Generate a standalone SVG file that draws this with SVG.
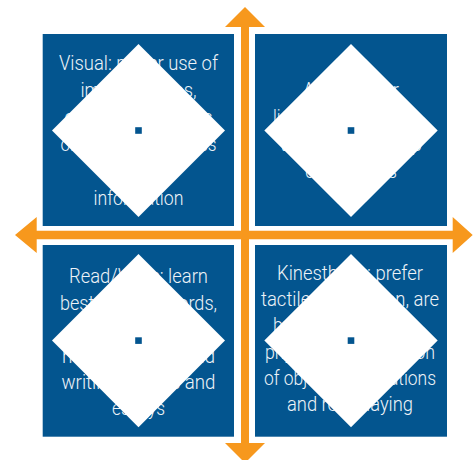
<svg xmlns="http://www.w3.org/2000/svg" width="473" height="460" viewBox="0 0 473 460">
  <style>
    .box { fill: #03558f; }
    .dia { fill: #ffffff; }
    .dot { fill: #03558f; }
    .arrow { fill: #f7981d; }
    .t { font-family: Roboto, "Liberation Sans", sans-serif; font-weight: 300; font-size: 21px; fill: #eef3f8; text-anchor: middle; }
    .s { text-anchor: start; }
  </style>
  <rect width="473" height="460" fill="#ffffff"/>

  <g id="node-visual">
    <rect class="box" x="42.7" y="34" width="191.3" height="192"/>
    <text class="t" x="138.5" y="70" textLength="159" lengthAdjust="spacingAndGlyphs">Visual: prefer use of</text>
    <text class="t" x="138.5" y="97" textLength="116" lengthAdjust="spacingAndGlyphs">images, maps,</text>
    <text class="t" x="138.5" y="124" textLength="148" lengthAdjust="spacingAndGlyphs">charts, and graphs</text>
    <text class="t" x="138.5" y="151" textLength="156" lengthAdjust="spacingAndGlyphs">organizers to access</text>
    <text class="t" x="138.5" y="178" textLength="68" lengthAdjust="spacingAndGlyphs">and store</text>
    <text class="t" x="138.5" y="205" textLength="90" lengthAdjust="spacingAndGlyphs">information</text>
    <polygon class="dia" points="138.5,44 225,130.5 138.5,217 52,130.5"/>
    <rect class="dot" x="135.2" y="127.2" width="6.6" height="6.6"/>
  </g>

  <g id="node-aural">
    <rect class="box" x="255" y="34" width="192" height="192"/>
    <text class="t" x="351" y="97" textLength="96" lengthAdjust="spacingAndGlyphs">Aural: prefer</text>
    <text class="t s" x="273" y="124" textLength="146" lengthAdjust="spacingAndGlyphs">listening to lectures,</text>
    <text class="t" x="351" y="151" textLength="142" lengthAdjust="spacingAndGlyphs">tapes, and group</text>
    <text class="t" x="351" y="178" textLength="92" lengthAdjust="spacingAndGlyphs">discussions</text>
    <polygon class="dia" points="351,44 437.7,130.5 351,217 264.3,130.5"/>
    <rect class="dot" x="347.7" y="127.2" width="6.6" height="6.6"/>
  </g>

  <g id="node-readwrite">
    <rect class="box" x="42.7" y="245" width="191.3" height="191.7"/>
    <text class="t" x="138.5" y="283.3" textLength="139" lengthAdjust="spacingAndGlyphs">Read/Write: learn</text>
    <text class="t" x="138.5" y="309.7" textLength="157" lengthAdjust="spacingAndGlyphs">best through words,</text>
    <text class="t" x="138.5" y="336.1" textLength="120" lengthAdjust="spacingAndGlyphs">lists, textbooks,</text>
    <text class="t" x="138.5" y="362.5" textLength="153" lengthAdjust="spacingAndGlyphs">notes, reading and</text>
    <text class="t" x="138.5" y="388.9" textLength="154" lengthAdjust="spacingAndGlyphs">writing reports and</text>
    <text class="t" x="138.5" y="415.3" textLength="53" lengthAdjust="spacingAndGlyphs">essays</text>
    <polygon class="dia" points="138.5,254 225,340.6 138.5,427.2 52,340.6"/>
    <rect class="dot" x="135.2" y="337.3" width="6.6" height="6.6"/>
  </g>

  <g id="node-kinesthetic">
    <rect class="box" x="255" y="245" width="192" height="191.7"/>
    <text class="t" x="350" y="280" textLength="146" lengthAdjust="spacingAndGlyphs">Kinesthetic: prefer</text>
    <text class="t" x="350" y="306" textLength="178" lengthAdjust="spacingAndGlyphs">tactile stimulation, are</text>
    <text class="t s" x="273" y="332" textLength="144" lengthAdjust="spacingAndGlyphs">best at learning by</text>
    <text class="t" x="350" y="358.5" textLength="170" lengthAdjust="spacingAndGlyphs">physical manipulation</text>
    <text class="t" x="350" y="385" textLength="172" lengthAdjust="spacingAndGlyphs">of objects, simulations</text>
    <text class="t" x="350" y="411" textLength="126" lengthAdjust="spacingAndGlyphs">and role playing</text>
    <polygon class="dia" points="351,254 437.7,340.6 351,427.2 264.3,340.6"/>
    <rect class="dot" x="347.7" y="337.3" width="6.6" height="6.6"/>
  </g>

  <g id="connectors">
    <polygon class="arrow" points="245,7 265,27 249,27 249,443 265,443 245,463 225,443 241,443 241,27 225,27"/>
    <polygon class="arrow" points="15,235 36.7,217 36.7,230.7 452.7,230.7 452.7,217 472.7,235 452.7,253 452.7,239.3 36.7,239.3 36.7,253"/>
  </g>
</svg>
